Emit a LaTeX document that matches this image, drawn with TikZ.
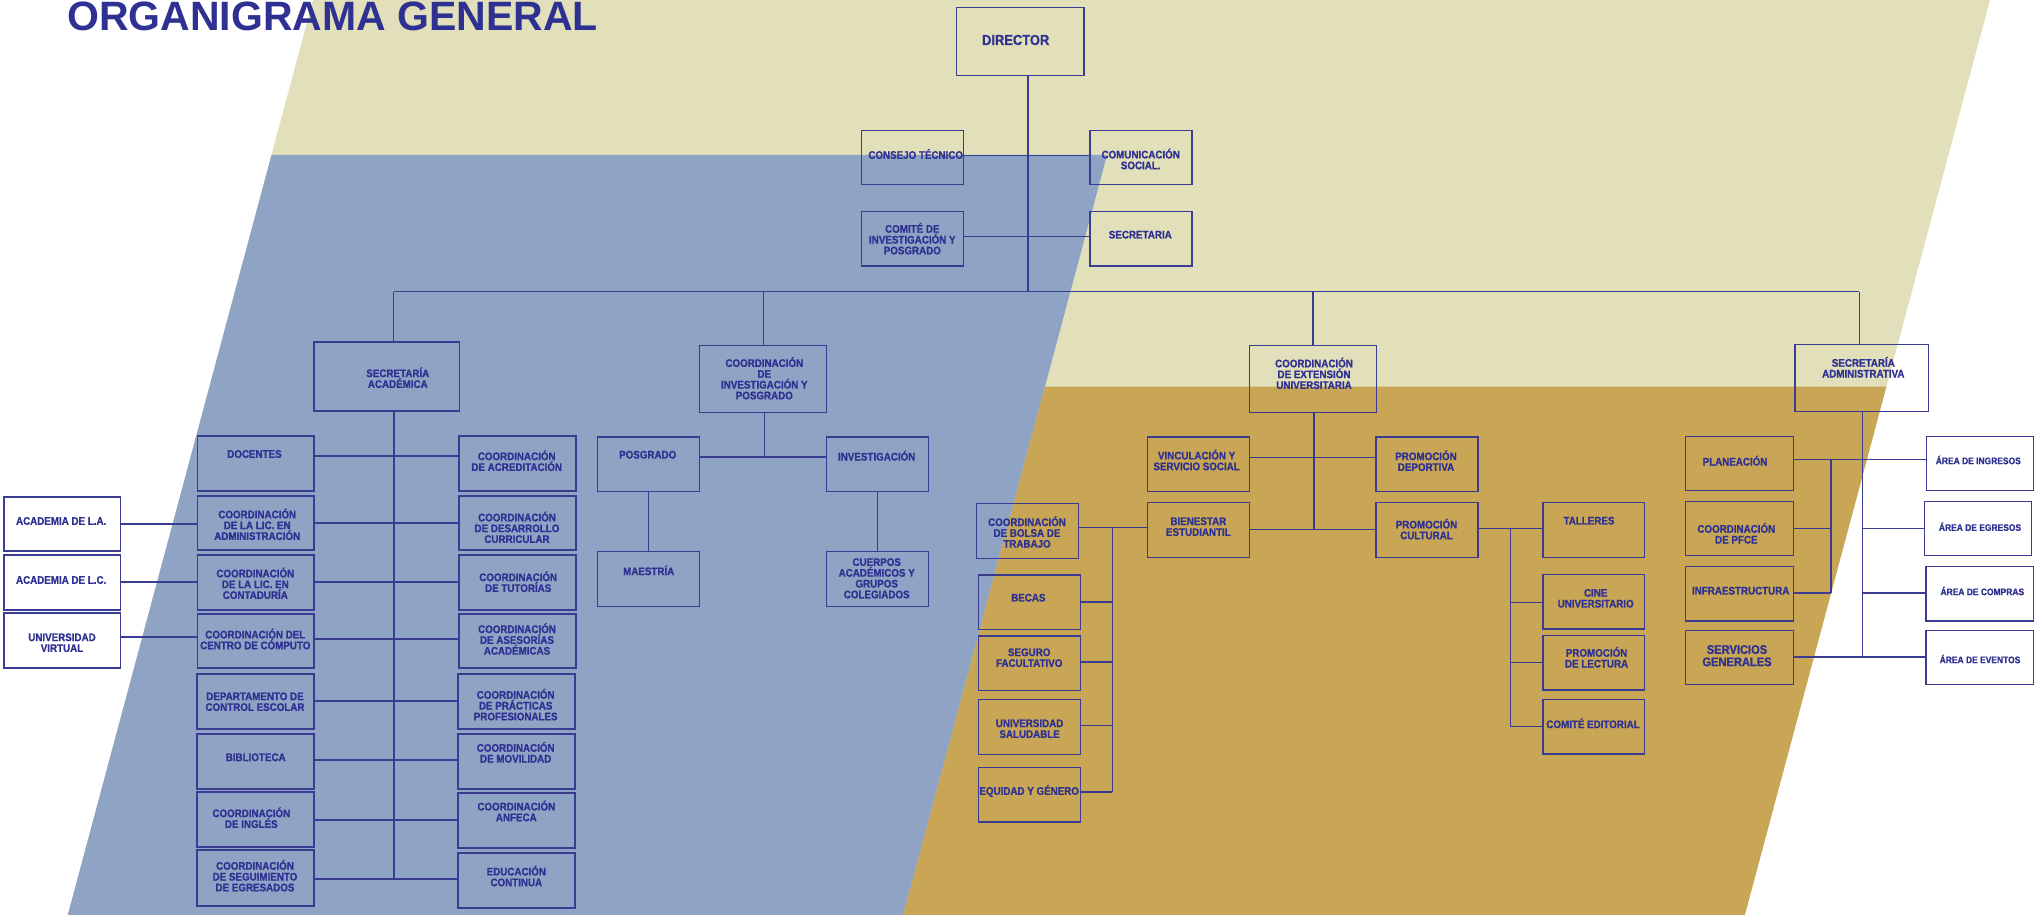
\documentclass[tikz,border=0pt]{standalone}
\usepackage{fontspec}
\setmainfont{Liberation Sans}
\newfontfamily\bxfont{Liberation Sans}[FakeStretch=0.89,FakeBold=0.9]
\definecolor{beige}{RGB}{226,223,187}
\definecolor{bluebg}{RGB}{143,163,196}
\definecolor{goldbg}{RGB}{200,166,86}
\definecolor{ln}{RGB}{58,60,146}
\definecolor{tx}{RGB}{46,49,146}
\newcommand\bx[6][]{\node[box,#1,minimum width={(#5)-(#3)},minimum height={(#6)-(#4)}] (#2) at ({((#3)+(#5))/2},{-((#4)+(#6))/2}) {};}
\newcommand\lb[5][]{\node[lbl,#1] (#2) at (#3,-#4) {#5};}
\begin{document}
\begin{tikzpicture}[x=1pt,y=1pt,
  box/.style={draw=ln, line width=1.3pt, inner sep=0pt, outer sep=0pt},
  thick box/.style={line width=1.9pt},
  lbl/.style={text=tx, font=\bxfont\bfseries\fontsize{11}{10.8}\selectfont, align=center, inner sep=0pt},
  conn/.style={draw=ln, line width=1.3pt},
  tconn/.style={draw=ln, line width=1.9pt}]
\useasboundingbox (0,0) rectangle (2038,-915);
\clip (0,0) rectangle (2038,-915);
% backgrounds
\fill[beige] (313,0) -- (1990,0) -- (1744.8,-915) -- (67.8,-915) -- cycle;
\fill[bluebg] (271.5,-155) -- (1107,-155) -- (903.3,-915) -- (67.8,-915) -- cycle;
\fill[goldbg] (1044.9,-386.7) -- (1886.4,-386.7) -- (1744.8,-915) -- (903.3,-915) -- cycle;
% title
\node[anchor=base west, font=\bfseries\fontsize{41}{41}\selectfont, text=tx, inner sep=0pt] (title) at (67,-30.5) {ORGANIGRAMA GENERAL};
% top boxes
\bx{dir}{956.7}{7.3}{1084}{75.3}
\bx{ct}{861.7}{130.3}{963.7}{184.3}
\bx{cs}{1090}{130.3}{1192}{184.3}
\bx{ci}{861.7}{211.3}{963.7}{266}
\bx{sec}{1090}{211.3}{1192}{266}
\bx[thick box]{sa}{314.3}{342.3}{459.5}{411}
\bx{cip}{699.7}{345.3}{826.7}{412.3}
\bx{ceu}{1249.3}{345.3}{1376.5}{412.3}
\bx{sad}{1795}{344.7}{1928.7}{411.7}
% secretaria academica
\bx[thick box]{doc}{197.5}{435.7}{314}{491}
\bx[thick box]{cla}{197.5}{495.7}{314}{550.3}
\bx[thick box]{clc}{197.5}{555}{314}{610}
\bx[thick box]{ccc}{197.5}{614}{314}{668.3}
\bx[thick box]{dce}{196.7}{674}{313.7}{729.3}
\bx[thick box]{bib}{196.7}{733.7}{313.7}{788.7}
\bx[thick box]{cing}{197.3}{791.7}{314}{847}
\bx[thick box]{cse}{197.3}{850.3}{314}{906}
\bx[thick box]{acr}{459}{435.7}{576}{491}
\bx[thick box]{cdc}{459}{495.7}{576}{550.3}
\bx[thick box]{tut}{459}{555}{576}{610}
\bx[thick box]{ase}{459}{614}{576}{668.3}
\bx[thick box]{pra}{458}{674}{575}{729.3}
\bx[thick box]{mov}{458}{733.7}{575}{788.7}
\bx[thick box]{anf}{458}{793.3}{575}{848.3}
\bx[thick box]{edu}{458}{852.7}{575}{908.3}
\bx[thick box]{ala}{3.8}{496.7}{120.5}{551}
\bx[thick box]{alc}{3.8}{555}{120.5}{610}
\bx[thick box]{uvi}{3.8}{613.3}{120.5}{668.3}
% coordinacion investigacion
\bx{pos}{597.7}{437}{699.7}{491.7}
\bx{inv}{826.3}{437}{928.3}{491.7}
\bx{mae}{597.7}{551.3}{699.7}{606.3}
\bx{cue}{826.3}{551.3}{928.3}{606.3}
% extension
\bx{vin}{1147.5}{437}{1249.7}{491.7}
\bx{dep}{1376}{437}{1477.9}{491.7}
\bx{bie}{1147.5}{502.7}{1249.7}{557.3}
\bx{cul}{1376}{502.7}{1477.9}{557.3}
\bx{bol}{976.5}{503.3}{1078.3}{558.3}
\bx{bec}{978.3}{575}{1080.5}{629.3}
\bx{seg}{978.3}{636}{1080.5}{690.3}
\bx{usa}{978.3}{699.3}{1080.5}{754.3}
\bx{equ}{978.3}{767.3}{1080.5}{822}
\bx{tal}{1543}{502.7}{1644.8}{557.3}
\bx{cine}{1543}{574.3}{1644.8}{629}
\bx{lec}{1543}{635.3}{1644.8}{690}
\bx{edi}{1543}{699.3}{1644.8}{754}
% administrativa
\bx{pla}{1685.3}{436.3}{1793.3}{490.3}
\bx{pfc}{1685.3}{501.7}{1793.3}{555.7}
\bx{inf}{1685.3}{566.7}{1793.3}{621}
\bx{sge}{1685.3}{630.3}{1793.3}{684.3}
\bx{ing}{1926.3}{436.3}{2033.7}{490.3}
\bx{egr}{1924.3}{501.7}{2031.7}{555.7}
\bx{com}{1926}{566.7}{2033.3}{621}
\bx{eve}{1926}{630.3}{2033.3}{684.3}
% coordinates
\coordinate (bus) at (0,-291.7);
\coordinate (dv) at (1028,-291.7);
\coordinate (b1) at (393.5,-291.7);
\coordinate (b4) at (1859.3,-291.7);
\coordinate (r0) at (0,-155.7);
\coordinate (r00) at (0,-236.7);
\coordinate (sp) at (393.7,-878.7);
\coordinate (r1) at (0,-456);
\coordinate (r2) at (0,-522.7);
\coordinate (r3) at (0,-582.3);
\coordinate (r4) at (0,-638.7);
\coordinate (r5) at (0,-701);
\coordinate (r6) at (0,-760.3);
\coordinate (r7) at (0,-820);
\coordinate (r8) at (0,-878.7);
\coordinate (ra) at (0,-524);
\coordinate (rb) at (0,-582.3);
\coordinate (rc) at (0,-637);
\coordinate (ci1) at (764.3,-457);
\coordinate (ce1) at (0,-457.3);
\coordinate (ce2) at (1314,-529.3);
\coordinate (bb) at (1112.2,-527.7);
\coordinate (bl1) at (1112.2,-602);
\coordinate (bl2) at (1112.2,-662);
\coordinate (bl3) at (1112.2,-725.7);
\coordinate (bbe) at (1112.2,-792);
\coordinate (cb) at (1510.4,-528.7);
\coordinate (cl1) at (1510.4,-602.7);
\coordinate (cl2) at (1510.4,-662.3);
\coordinate (cl3) at (1510.4,-726.3);
\coordinate (as0) at (1862.7,-657);
\coordinate (a1) at (1862.7,-459.7);
\coordinate (lb1) at (1831,-459.7);
\coordinate (lb2) at (1831,-528.3);
\coordinate (lb3) at (1831,-593);
% connectors top
\draw[conn] (dir.south -| dv) -- (dv);
\draw[conn] (ct.east |- r0) -- (cs.west |- r0);
\draw[conn] (ci.east |- r00) -- (sec.west |- r00);
\draw[conn] (b1) -- (b4);
\draw[conn] (b1) -- (b1 |- sa.north);
\draw[conn] (cip.north) -- (cip.north |- bus);
\draw[conn] (ceu.north) -- (ceu.north |- bus);
\draw[conn] (b4) -- (b4 |- sad.north);
% secretaria academica
\draw[tconn] (sp |- sa.south) -- (sp);
\draw[tconn] (doc.east |- r1) -- (acr.west |- r1);
\draw[tconn] (cla.east |- r2) -- (cdc.west |- r2);
\draw[tconn] (clc.east |- r3) -- (tut.west |- r3);
\draw[tconn] (ccc.east |- r4) -- (ase.west |- r4);
\draw[tconn] (dce.east |- r5) -- (pra.west |- r5);
\draw[tconn] (bib.east |- r6) -- (mov.west |- r6);
\draw[tconn] (cing.east |- r7) -- (anf.west |- r7);
\draw[tconn] (cse.east |- r8) -- (edu.west |- r8);
\draw[tconn] (ala.east |- ra) -- (cla.west |- ra);
\draw[tconn] (alc.east |- rb) -- (clc.west |- rb);
\draw[tconn] (uvi.east |- rc) -- (ccc.west |- rc);
% investigacion
\draw[conn] (cip.south -| ci1) -- (ci1);
\draw[conn] (pos.east |- ci1) -- (inv.west |- ci1);
\draw[conn] (pos.south) -- (mae.north);
\draw[conn] (inv.south) -- (cue.north);
% extension
\draw[conn] (ceu.south -| ce2) -- (ce2);
\draw[conn] (vin.east |- ce1) -- (dep.west |- ce1);
\draw[conn] (bie.east |- ce2) -- (cul.west |- ce2);
\draw[conn] (bol.east |- bb) -- (bie.west |- bb);
\draw[conn] (bb) -- (bbe);
\draw[conn] (bl1) -- (bec.east |- bl1);
\draw[conn] (bl2) -- (seg.east |- bl2);
\draw[conn] (bl3) -- (usa.east |- bl3);
\draw[conn] (bbe) -- (equ.east |- bbe);
\draw[conn] (cul.east |- cb) -- (tal.west |- cb);
\draw[conn] (cb) -- (cl3);
\draw[conn] (cl1) -- (cine.west |- cl1);
\draw[conn] (cl2) -- (lec.west |- cl2);
\draw[conn] (cl3) -- (edi.west |- cl3);
% administrativa
\draw[conn] (sad.south -| as0) -- (as0);
\draw[conn] (pla.east |- a1) -- (ing.west |- a1);
\draw[conn] (lb1) -- (lb3);
\draw[conn] (pfc.east |- lb2) -- (lb2);
\draw[conn] (inf.east |- lb3) -- (lb3);
\draw[conn] (as0 |- lb2) -- (egr.west |- lb2);
\draw[conn] (as0 |- lb3) -- (com.west |- lb3);
\draw[conn] (sge.east |- as0) -- (eve.west |- as0);
% labels
\lb[font=\bxfont\bfseries\fontsize{14.5}{15}\selectfont]{dir-t}{1015.7}{40}{DIRECTOR}
\lb{ct-t}{915.7}{154}{CONSEJO TÉCNICO}
\lb{cs-t}{1140.7}{159}{COMUNICACIÓN\\SOCIAL.}
\lb{ci-t}{912.3}{238.7}{COMITÉ DE\\INVESTIGACIÓN Y\\POSGRADO}
\lb{sec-t}{1140.3}{234.7}{SECRETARIA}
\lb{sa-t}{397.8}{377.7}{SECRETARÍA\\ACADÉMICA}
\lb{cip-t}{764.3}{378.3}{COORDINACIÓN\\DE\\INVESTIGACIÓN Y\\POSGRADO}
\lb{ceu-t}{1314}{373.3}{COORDINACIÓN\\DE EXTENSIÓN\\UNIVERSITARIA}
\lb{sad-t}{1863.3}{367.3}{SECRETARÍA\\ADMINISTRATIVA}
\lb{doc-t}{254.5}{454}{DOCENTES}
\lb{cla-t}{257.2}{524.3}{COORDINACIÓN\\DE LA LIC. EN\\ADMINISTRACIÓN}
\lb{clc-t}{255.3}{583.3}{COORDINACIÓN\\DE LA LIC. EN\\CONTADURÍA}
\lb{ccc-t}{255.3}{639}{COORDINACIÓN DEL\\CENTRO DE CÓMPUTO}
\lb{dce-t}{255}{701.7}{DEPARTAMENTO DE\\CONTROL ESCOLAR}
\lb{bib-t}{255.7}{757.3}{BIBLIOTECA}
\lb{cing-t}{251.3}{817.7}{COORDINACIÓN\\DE INGLÉS}
\lb{cse-t}{255}{875.7}{COORDINACIÓN\\DE SEGUIMIENTO\\DE EGRESADOS}
\lb{acr-t}{516.7}{460.7}{COORDINACIÓN\\DE ACREDITACIÓN}
\lb{cdc-t}{517}{527.3}{COORDINACIÓN\\DE DESARROLLO\\CURRICULAR}
\lb{tut-t}{518.2}{581.7}{COORDINACIÓN\\DE TUTORÍAS}
\lb{ase-t}{517}{639}{COORDINACIÓN\\DE ASESORÍAS\\ACADÉMICAS}
\lb{pra-t}{515.7}{704.7}{COORDINACIÓN\\DE PRÁCTICAS\\PROFESIONALES}
\lb{mov-t}{515.7}{752.3}{COORDINACIÓN\\DE MOVILIDAD}
\lb{anf-t}{516.3}{811}{COORDINACIÓN\\ANFECA}
\lb{edu-t}{516.3}{876}{EDUCACIÓN\\CONTINUA}
\lb{ala-t}{61.2}{521}{ACADEMIA DE L.A.}
\lb{alc-t}{61.2}{580}{ACADEMIA DE L.C.}
\lb{uvi-t}{62}{642.7}{UNIVERSIDAD\\VIRTUAL}
\lb{pos-t}{647.7}{454.7}{POSGRADO}
\lb{inv-t}{876.7}{455.7}{INVESTIGACIÓN}
\lb{mae-t}{648.7}{570.3}{MAESTRÍA}
\lb{cue-t}{876.7}{578.3}{CUERPOS\\ACADÉMICOS Y\\GRUPOS\\COLEGIADOS}
\lb{vin-t}{1196.6}{460}{VINCULACIÓN Y\\SERVICIO SOCIAL}
\lb{dep-t}{1426}{460.7}{PROMOCIÓN\\DEPORTIVA}
\lb{bie-t}{1198.4}{526.7}{BIENESTAR\\ESTUDIANTIL}
\lb{cul-t}{1426.5}{529}{PROMOCIÓN\\CULTURAL}
\lb{bol-t}{1027}{532}{COORDINACIÓN\\DE BOLSA DE\\TRABAJO}
\lb{bec-t}{1028.3}{597.7}{BECAS}
\lb{seg-t}{1029.2}{657.7}{SEGURO\\FACULTATIVO}
\lb{usa-t}{1029.6}{728.7}{UNIVERSIDAD\\SALUDABLE}
\lb{equ-t}{1029.2}{791}{EQUIDAD Y GÉNERO}
\lb{tal-t}{1589}{520.7}{TALLERES}
\lb{cine-t}{1595.7}{598.3}{CINE\\UNIVERSITARIO}
\lb{lec-t}{1596.6}{657.3}{PROMOCIÓN\\DE LECTURA}
\lb{edi-t}{1593}{723.3}{COMITÉ EDITORIAL}
\lb{pla-t}{1735}{460.7}{PLANEACIÓN}
\lb{pfc-t}{1736.3}{533.3}{COORDINACIÓN\\DE PFCE}
\lb{inf-t}{1740.7}{590.7}{INFRAESTRUCTURA}
\lb[font=\bxfont\bfseries\fontsize{12.5}{12.3}\selectfont]{sge-t}{1737}{655.7}{SERVICIOS\\GENERALES}
\lb[font=\bxfont\bfseries\fontsize{9.5}{10}\selectfont]{ing-t}{1978.3}{460}{ÁREA DE INGRESOS}
\lb[font=\bxfont\bfseries\fontsize{9.5}{10}\selectfont]{egr-t}{1980}{526.7}{ÁREA DE EGRESOS}
\lb[font=\bxfont\bfseries\fontsize{9.5}{10}\selectfont]{com-t}{1982.3}{591}{ÁREA DE COMPRAS}
\lb[font=\bxfont\bfseries\fontsize{9.5}{10}\selectfont]{eve-t}{1980}{659}{ÁREA DE EVENTOS}
\end{tikzpicture}
\end{document}
